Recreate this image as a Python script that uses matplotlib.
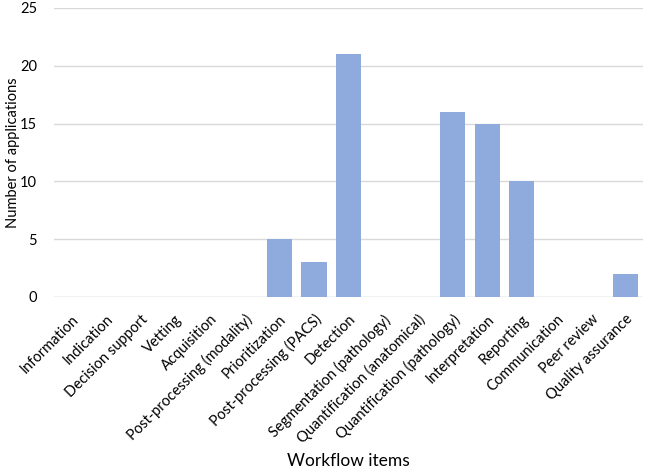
import matplotlib.pyplot as plt
import numpy as np

plt.rcParams['font.family'] = ['Lato', 'DejaVu Sans']

items = ['Information', 'Indication', 'Decision support', 'Vetting', 'Acquisition',
         'Post-processing (modality)', 'Prioritization', 'Post-processing (PACS)',
         'Detection', 'Segmentation (pathology)', 'Quantification (anatomical)',
         'Quantification (pathology)', 'Interpretation', 'Reporting',
         'Communication', 'Peer review', 'Quality assurance']
counts = [0, 0, 0, 0, 0, 0, 5, 3, 21, 0, 0, 16, 15, 10, 0, 0, 2]
yticks = [0, 5, 10, 15, 20, 25]

fig = plt.figure(figsize=(6.49, 4.69), dpi=100)
ax = fig.add_axes([0.083, 0.367, 0.908, 0.616])

x = np.arange(len(items))
ax.bar(x, counts, width=0.73, color='#8FAADC', zorder=3)
ax.set_xlim(-0.5, len(items) - 0.5)
ax.set_ylim(0, 25)
ax.set_yticks(yticks)
ax.grid(axis='y', color='#D9D9D9', linewidth=1, zorder=0)
ax.set_axisbelow(True)
for s in ax.spines.values():
    s.set_visible(False)
ax.axhline(0, color='#D9D9D9', linewidth=1, zorder=1)
ax.tick_params(length=0, colors='#000000')
ax.tick_params(axis='y', labelsize=10.5, pad=12)
ax.tick_params(axis='x', labelsize=10.5, pad=11)
ax.set_xticks(x)
ax.set_xticklabels(items, rotation=45, ha='right', rotation_mode='anchor')
ax.set_ylabel('Number of applications', fontsize=10.5)
ax.yaxis.set_label_coords(-0.058, 0.5)
ax.set_xlabel('Workflow items', fontsize=12.5)
ax.xaxis.set_label_coords(0.5, -0.54)

fig.savefig('out.png', dpi=100)
